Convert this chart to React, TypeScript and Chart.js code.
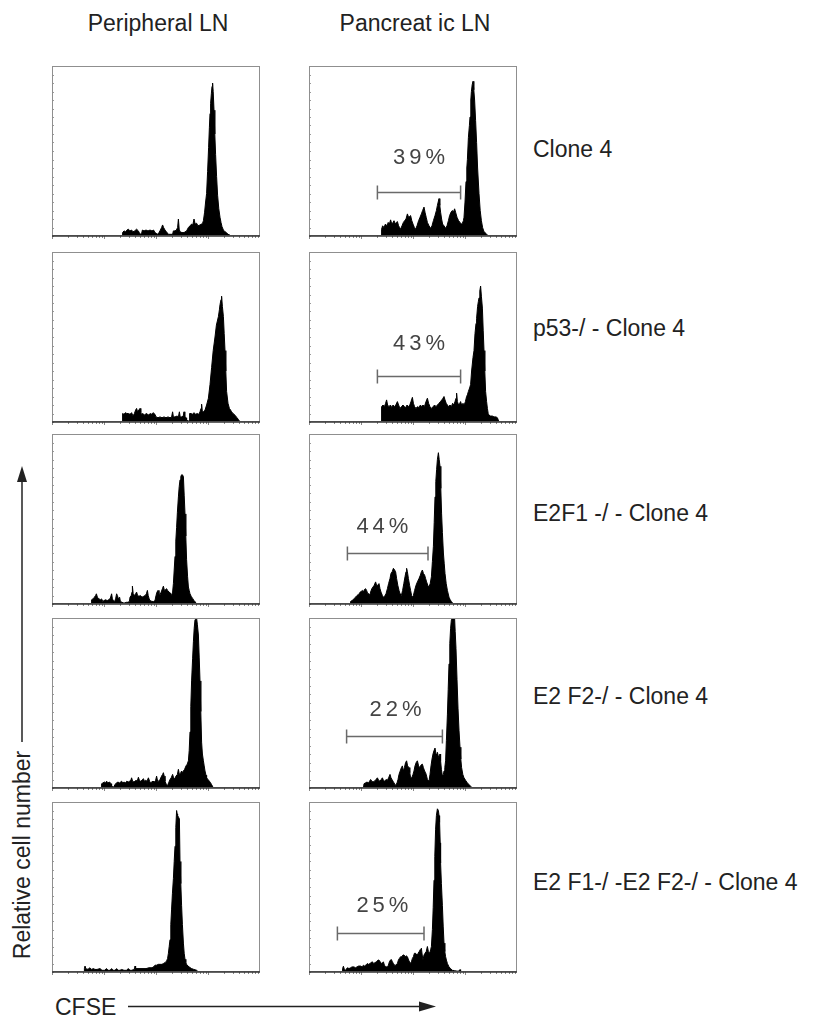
import React, { useEffect, useRef } from "react";
import { Chart, registerables } from "chart.js";

Chart.register(...registerables);

// CFSE channel axis (4 log decades over 1040 channels) and relative cell number (% of max)
const CFSE_MAX = 1040;
const COUNT_MAX = 100;

const columnTitles = ["Peripheral LN", "Pancreat ic LN"];
const rowLabels = [
  "Clone 4",
  "p53-/ - Clone 4",
  "E2F1 -/ - Clone 4",
  "E2 F2-/ - Clone 4",
  "E2 F1-/ -E2 F2-/ - Clone 4",
];
const yAxisTitle = "Relative cell number";
const xAxisTitle = "CFSE";

// Gates on the pancreatic LN histograms
const gatePercents = ["39%", "43%", "44%", "22%", "25%"];
const gateFrom = [342, 342, 192, 188, 142];
const gateTo = [758, 758, 595, 667, 575];
const gateLevel = [26, 27, 30, 30.4, 22.8];
const gateLabelX = [550, 550, 367, 433, 367];
const gateLabelLevel = [46, 46, 45.6, 46, 38.6];

type Pt = [number, number];

const periphClone4: Pt[] = [
  [350,0],[353,2],[360,3],[368,2.5],[375,3.5],[382,4],[390,3],[398,3.5],[405,2.5],[413,3],[423,4],[432,3],[440,1],[448,1.5],[452,3.5],[460,3],[470,3.5],[480,3],[490,3.5],[500,3],[508,3.5],[515,2],[527,1],[535,2],[542,3.5],[548,5],[553,6.5],[558,5],[565,3.5],[572,2.5],[582,1],[595,1],[603,1],[607,3],[615,3],[622,3.5],[628,5],[632,10],[636,4],[640,2.5],[650,2],[660,2],[673,3],[682,5],[690,6],[698,7],[704,6.5],[710,10],[716,7],[723,7.5],[730,6],[740,6.5],[747,7],[753,7.5],[757,9],[763,14],[768,20],[773,25],[778,38],[783,52],[787,64],[790,72],[793,78],[797,84],[800,88],[803,90],[806,85],[810,74],[814,60],[818,48],[823,35],[828,24],[834,16],[840,11],[845,8],[850,5.5],[857,3.5],[865,2.5],[872,2],[880,1],[890,0.5],[895,0],
];

const pancClone4: Pt[] = [
  [360,0],[363,4],[368,6],[375,5],[382,7],[390,6],[396,8],[402,7],[408,9.5],[414,7],[420,8],[425,9],[432,7],[437,8],[442,8.5],[448,6],[453,5],[458,4],[465,6],[472,8],[478,9],[485,10],[492,13],[498,11],[503,11.5],[508,12],[514,9],[520,7],[527,5],[533,4],[540,6],[548,9],[555,11],[562,13],[568,15],[575,17],[580,14],[586,11],[592,8],[600,6],[608,4.5],[615,6],[622,9],[630,12],[637,15],[642,18],[646,20],[650,22],[654,18],[658,14],[663,10],[668,7],[675,6],[683,4.5],[690,6],[697,9],[703,12],[710,14],[717,15],[722,14],[728,16],[733,14],[740,11],[748,9],[755,8],[762,7],[767,7.5],[772,9],[775,11],[780,20],[785,32],[789,40],[792,45],[797,58],[802,65],[805,70],[809,80],[812,85],[816,89],[820,91],[824,86],[828,80],[833,68],[838,55],[843,40],[850,25],[856,15],[862,9],[868,5],[875,2.5],[885,1.5],[892,0.5],[897,0],
];

const periphP53: Pt[] = [
  [350,0],[353,5],[360,4.5],[367,5.5],[374,5],[382,5],[390,4.5],[398,5.5],[405,3.5],[412,5],[418,7],[423,8],[428,6],[434,7],[440,8],[444,5.5],[448,4.5],[455,5],[462,4],[470,5],[478,4.5],[485,4],[490,5],[497,4.5],[505,5.5],[515,4.5],[520,3],[530,2.5],[540,3],[550,2.5],[560,3],[570,2.5],[580,3],[590,2.5],[598,3],[603,6],[607,3],[615,3],[625,3.5],[632,3],[637,6],[641,3],[650,3],[656,3.5],[660,6],[664,3],[670,2.5],[673,1],[685,0.5],[688,5],[695,5],[702,4.5],[710,5.5],[718,4.5],[726,5],[734,4.5],[740,6],[745,8],[748,10.5],[752,6],[757,6],[765,7],[773,10],[782,14],[790,22],[798,32],[806,42],[815,50],[822,57],[832,62],[837,66],[840,69],[845,72],[848,74],[852,68],[857,62],[861,52],[865,42],[869,30],[873,18],[880,11],[887,8],[893,7],[898,6],[905,5],[915,4],[925,2.5],[932,1.5],[940,0],
];

const pancP53: Pt[] = [
  [360,0],[363,9],[370,10],[377,9],[383,11],[388,13],[393,10],[400,9],[407,10],[414,8.5],[420,10],[427,9],[434,10],[442,12],[448,10],[455,8],[462,9],[470,10],[477,9],[484,8.5],[490,10],[497,9],[504,10],[510,12],[517,14.5],[522,11],[528,9],[535,8],[542,9],[550,8.5],[557,10],[563,9],[570,10],[577,9],[585,12],[592,14],[598,11],[605,9],[612,8],[620,9],[628,10],[635,9],[642,10],[650,11],[657,12],[664,13],[670,14],[675,15],[680,13],[686,11],[692,10],[698,9],[705,10],[712,9],[718,11],[724,10],[730,12],[735,14],[738,17],[742,12],[748,10],[754,11],[758,12],[763,10],[770,11],[776,10],[782,12],[788,15],[792,16],[797,18],[803,20],[808,22],[813,30],[820,38],[825,42],[830,52],[835,58],[838,61],[843,68],[847,71],[850,73],[854,77],[858,80],[862,74],[867,67],[871,54],[875,42],[879,30],[883,18],[888,12],[892,8],[896,5],[900,4],[908,3.5],[917,3.5],[925,3],[935,3],[942,2.5],[950,0],
];

const periphE2F1: Pt[] = [
  [195,0],[198,2.5],[205,3],[212,4],[218,5],[222,6],[227,4],[235,3],[242,2.5],[248,3],[254,1.5],[260,2],[268,2.5],[276,2],[284,2.5],[292,3.5],[298,6],[302,3],[307,2],[313,1.5],[318,3],[323,6],[327,5],[332,3],[338,4],[342,1.5],[350,1],[360,0.5],[372,1],[380,1],[387,1.5],[390,4],[396,5],[400,7],[402,10.5],[406,6],[412,5],[418,6],[423,7],[428,5],[435,4.5],[442,5],[450,4],[458,4.5],[466,5],[472,6],[477,8],[481,5],[486,3],[490,2],[500,1.5],[508,1.5],[515,2],[520,5],[525,7],[530,8],[535,6],[540,5.5],[546,7],[552,9],[557,10.5],[562,8],[568,8.5],[573,9],[578,8],[585,7],[592,6.5],[598,5],[603,7],[607,12],[611,20],[615,28],[619,37],[623,45],[627,54],[632,63],[636,69],[640,73],[644,75],[648,76],[652,76],[657,75],[661,64],[665,53],[669,40],[673,26],[678,16],[682,10],[686,8],[690,6],[696,4.5],[703,3.3],[710,2],[715,1.4],[723,0],
];

const pancE2F1: Pt[] = [
  [205,0],[208,1.5],[215,2],[225,3],[232,4],[240,5],[246,5.5],[250,6],[256,7],[262,7.5],[267,8],[272,7],[277,8.5],[283,9],[288,8],[294,6],[300,6],[304,5],[308,7],[314,9],[320,10],[326,11],[333,13],[338,11],[344,11],[350,12],[355,9],[360,7],[367,5],[372,4],[378,4.5],[385,6],[392,9],[398,12],[405,15],[410,18],[416,19],[422,21],[428,20],[433,19],[438,15],[444,11],[450,8],[455,6],[458,4],[462,5],[468,8],[474,12],[480,16],[485,19],[488,21],[492,19],[497,15],[503,11],[508,8],[513,5],[517,4],[522,5],[528,8],[535,11],[542,13],[550,15],[557,17],[562,19],[567,20],[572,18],[578,17],[583,15],[588,13],[594,11],[600,10],[606,12],[612,16],[617,25],[622,34],[626,48],[630,63],[634,72],[638,79],[642,85],[647,89],[651,85],[655,81],[659,68],[663,53],[667,42],[672,30],[676,24],[680,18],[686,12],[692,8],[700,4],[706,2.5],[712,1.4],[722,0],
];

const periphE2F2: Pt[] = [
  [245,0],[248,2.5],[255,3],[262,3.5],[268,3],[273,4],[280,3],[288,3.5],[295,2.5],[298,1],[308,0.5],[315,2],[322,3],[330,3.5],[337,3],[343,3.5],[348,4],[354,3],[360,3.5],[367,3],[374,4],[381,3.5],[388,4],[394,4.5],[398,6],[403,4],[410,3.5],[415,4],[420,4.5],[426,4],[432,6.3],[437,4.5],[443,4],[450,4.5],[457,5.5],[462,4],[468,4.5],[475,4],[482,6],[488,4],[493,3],[498,3.5],[505,4],[512,3.5],[518,4.5],[523,7],[528,4],[532,4],[540,5],[548,7],[553,8],[557,9],[561,7],[565,4],[572,2],[578,1.5],[583,3],[590,5],[596,6],[603,8],[608,6],[614,5.5],[620,7],[627,8],[632,11],[637,8],[642,8.5],[648,10],[652,9],[657,10],[663,11],[670,13],[676,14],[682,16],[686,22],[690,33],[694,48],[698,63],[703,76],[707,86],[711,94],[715,99],[719,100],[723,100],[727,96],[732,90],[736,77],[740,63],[744,45],[748,27],[752,20],[757,16],[761,13],[765,10],[770,7.5],[773,6],[780,5],[787,4],[793,3],[798,2],[807,0],
];

const pancE2F2: Pt[] = [
  [272,0],[275,2.5],[282,3],[290,3.5],[297,3],[303,4],[308,5],[314,4],[320,3.5],[327,4],[335,5],[342,6],[348,4.5],[355,4],[361,5],[367,6],[372,4.5],[378,4],[385,5],[392,4.5],[398,6],[405,8],[410,6],[415,5],[420,4],[425,3],[433,1.5],[440,3],[445,5],[450,8],[456,10],[462,12],[467,13],[472,10],[477,12],[483,15],[488,16],[493,13],[500,12],[504,9],[508,6],[514,6],[520,8],[525,10],[530,13],[536,15],[542,16],[548,13],[554,12],[560,13.5],[567,14],[572,12],[578,10],[583,9],[588,7],[592,5],[600,4],[605,8],[610,13],[615,17],[620,20],[625,22],[630,23.5],[635,20],[638,19],[642,21],[648,18],[652,19],[655,20],[658,16],[662,11],[667,7],[672,8],[675,10],[679,12],[683,16],[687,28],[692,43],[696,58],[700,73],[704,85],[708,94],[712,99],[717,100],[722,100],[728,100],[731,92],[735,82],[740,64],[745,47],[750,34],[755,24],[759,17],[763,12],[769,8],[775,6],[783,4.5],[792,3],[800,2],[808,1],[817,0],
];

const periphDKO: Pt[] = [
  [160,0],[162,2],[165,3.5],[170,1.8],[180,1.6],[190,2.5],[197,1.5],[207,2],[215,1.5],[225,1.5],[240,2],[250,1],[262,1],[273,2],[280,1],[290,1],[298,2],[305,1],[315,1],[323,2],[330,1],[340,1],[348,1.5],[360,1],[372,1],[382,2],[390,1],[400,1],[407,1.5],[412,1.5],[415,3.5],[418,2],[425,2],[440,2],[455,2],[470,2],[485,2.5],[500,2.5],[507,3],[515,4],[523,4],[532,4.5],[540,4.5],[550,4.5],[557,5],[565,5.5],[573,6.5],[578,8],[582,11],[586,15],[590,19],[594,28],[598,37],[602,46],[607,55],[611,65],[615,74],[619,85],[623,95],[626,93],[628,92],[633,91],[637,90],[640,65],[644,52],[648,39],[652,28],[657,17],[661,11],[665,7.5],[669,5.5],[673,4.5],[680,3.5],[690,2.6],[698,2],[707,1.6],[715,1.3],[723,1],[732,0],
];

const pancDKO: Pt[] = [
  [165,0],[168,2],[172,3.4],[177,1.5],[183,1],[188,2],[192,2.5],[200,2],[208,2.5],[215,3],[225,3],[232,2.5],[240,3],[248,3.5],[258,3.5],[265,3],[272,4],[278,3.5],[283,4],[288,4.5],[292,5],[298,4.5],[305,5],[310,5.5],[317,6],[323,5],[330,5.5],[337,6],[345,7],[350,7],[356,6],[362,5],[368,5.5],[372,6],[377,4],[385,3],[392,3],[397,4],[402,6],[407,7],[412,7.3],[417,6],[422,5],[428,4],[433,4],[437,4.5],[442,5],[447,7],[452,8],[458,9],[464,9],[470,10],[475,10],[481,9],[486,9.5],[492,9],[498,7],[503,6],[508,5],[512,6],[517,8],[522,9],[527,11],[533,11],[540,10],[546,11],[550,12],[554,13],[558,13],[562,14],[566,10],[570,7],[572,7],[575,10],[580,11],[586,12],[592,15],[597,12],[603,11],[608,13],[612,15],[617,25],[621,38],[625,54],[629,68],[633,84],[637,92],[642,96],[647,95],[650,92],[653,88],[656,76],[658,64],[662,52],[667,39],[671,27],[675,17],[679,12],[683,9],[687,7],[692,5],[700,3],[708,2],[717,1],[728,0.8],[740,0.5],[748,0.5],[753,1.2],[755,1.4],[758,0],
];

const peripheralSeries = [periphClone4, periphP53, periphE2F1, periphE2F2, periphDKO];
const pancreaticSeries = [pancClone4, pancP53, pancE2F1, pancE2F2, pancDKO];

// Layout (page pixels)
const PANEL_W = 208;
const PANEL_H = 170;
const COL_LEFT = [52, 309];
const ROW_TOP = [66, 252, 434, 618, 802];
const ROW_LABEL_Y = [149, 328, 513, 696, 882];
const PAD = 3;
const FONT = '"Liberation Sans", Arial, Helvetica, sans-serif';

type Gate = { from: number; to: number; level: number; label: string; labelX: number; labelLevel: number };

const panelDecor = {
  id: "panelDecor",
  afterDatasetsDraw(chart: any, _args: any, opts: any) {
    const { ctx, chartArea: a, scales } = chart;
    const xs = scales.x;
    const ys = scales.y;
    ctx.save();
    // left minor ticks
    ctx.strokeStyle = "#9a9a9a";
    ctx.lineWidth = 1;
    for (let v = 0; v <= COUNT_MAX; v += 5) {
      const py = Math.round(ys.getPixelForValue(v)) + 0.5;
      ctx.beginPath();
      ctx.moveTo(a.left, py);
      ctx.lineTo(a.left + 2, py);
      ctx.stroke();
    }
    // bottom log-decade ticks
    ctx.strokeStyle = "#888";
    for (let d = 0; d < 4; d++) {
      for (let k = 1; k < 10; k++) {
        const v = (d + Math.log10(k)) * (CFSE_MAX / 4);
        const px = Math.round(xs.getPixelForValue(v)) + 0.5;
        ctx.beginPath();
        ctx.moveTo(px, a.bottom);
        ctx.lineTo(px, a.bottom + (k === 1 ? 3 : 2));
        ctx.stroke();
      }
    }
    // frame
    ctx.strokeStyle = "#8f8f8f";
    ctx.lineWidth = 1;
    ctx.strokeRect(a.left + 0.5, a.top + 0.5, a.width - 1, a.height - 1);
    ctx.strokeStyle = "#333";
    ctx.lineWidth = 1.5;
    ctx.beginPath();
    ctx.moveTo(a.left, a.bottom);
    ctx.lineTo(a.right, a.bottom);
    ctx.stroke();
    // gate
    const g: Gate | undefined = opts && opts.gate;
    if (g) {
      const x1 = xs.getPixelForValue(g.from);
      const x2 = xs.getPixelForValue(g.to);
      const gy = Math.round(ys.getPixelForValue(g.level)) + 0.5;
      ctx.strokeStyle = "#6a6a6a";
      ctx.lineWidth = 1.5;
      ctx.beginPath();
      ctx.moveTo(x1, gy);
      ctx.lineTo(x2, gy);
      ctx.moveTo(x1, gy - 7);
      ctx.lineTo(x1, gy + 7);
      ctx.moveTo(x2, gy - 7);
      ctx.lineTo(x2, gy + 7);
      ctx.stroke();
      ctx.fillStyle = "#444";
      ctx.font = `22px ${FONT}`;
      (ctx as any).letterSpacing = "4px";
      ctx.textAlign = "center";
      ctx.textBaseline = "middle";
      ctx.fillText(g.label, xs.getPixelForValue(g.labelX) + 2, ys.getPixelForValue(g.labelLevel));
    }
    ctx.restore();
  },
};

function Panel({ data, left, top, gate }: { data: Pt[]; left: number; top: number; gate?: Gate }) {
  const ref = useRef<HTMLCanvasElement | null>(null);
  useEffect(() => {
    if (!ref.current) return;
    const chart = new Chart(ref.current, {
      type: "line",
      data: {
        datasets: [
          {
            data: data as any,
            fill: "origin",
            backgroundColor: "#000",
            borderColor: "#000",
            borderWidth: 1,
            pointRadius: 0,
            tension: 0,
          },
        ],
      },
      options: {
        animation: false,
        responsive: false,
        devicePixelRatio: 1,
        layout: { padding: PAD },
        scales: {
          x: { type: "linear", min: 0, max: CFSE_MAX, display: false },
          y: { type: "linear", min: 0, max: COUNT_MAX, display: false },
        },
        plugins: {
          legend: { display: false },
          tooltip: { enabled: false },
          panelDecor: { gate },
        } as any,
      },
      plugins: [panelDecor as any],
    });
    return () => chart.destroy();
  }, [data, gate]);
  return (
    <canvas
      ref={ref}
      width={PANEL_W + 2 * PAD}
      height={PANEL_H + 2 * PAD}
      style={{ position: "absolute", left: left - PAD, top: top - PAD, width: PANEL_W + 2 * PAD, height: PANEL_H + 2 * PAD }}
    />
  );
}

const gates: Gate[] = gatePercents.map((label, i) => ({
  from: gateFrom[i],
  to: gateTo[i],
  level: gateLevel[i],
  label,
  labelX: gateLabelX[i],
  labelLevel: gateLabelLevel[i],
}));

export default function App() {
  useEffect(() => {
    document.body.style.margin = "0";
  }, []);
  const textStyle: React.CSSProperties = {
    position: "absolute",
    fontFamily: FONT,
    fontSize: 23,
    color: "#222",
    whiteSpace: "nowrap",
    lineHeight: 1,
  };
  return (
    <div style={{ position: "absolute", left: 0, top: 0, width: 815, height: 1019, background: "#fff", overflow: "hidden" }}>
      {columnTitles.map((t, c) => (
        <div key={t} style={{ ...textStyle, left: COL_LEFT[c] + PANEL_W / 2 + 2, top: 23, transform: "translate(-50%, -50%)" }}>
          {t}
        </div>
      ))}
      {peripheralSeries.map((d, r) => (
        <Panel key={"p" + r} data={d} left={COL_LEFT[0]} top={ROW_TOP[r]} />
      ))}
      {pancreaticSeries.map((d, r) => (
        <Panel key={"q" + r} data={d} left={COL_LEFT[1]} top={ROW_TOP[r]} gate={gates[r]} />
      ))}
      {rowLabels.map((t, r) => (
        <div key={t} style={{ ...textStyle, left: 533, top: ROW_LABEL_Y[r], transform: "translateY(-50%)" }}>
          {t}
        </div>
      ))}
      <div style={{ ...textStyle, left: 22, top: 855, transform: "translate(-50%, -50%) rotate(-90deg)" }}>{yAxisTitle}</div>
      <div style={{ ...textStyle, left: 55, top: 1007, transform: "translateY(-50%)" }}>{xAxisTitle}</div>
      <svg width={815} height={1019} style={{ position: "absolute", left: 0, top: 0, pointerEvents: "none" }}>
        <line x1={22} y1={742} x2={22} y2={478} stroke="#222" strokeWidth={1.5} />
        <polygon points="22,466 17,482 27,482" fill="#222" />
        <line x1={128} y1={1006.5} x2={422} y2={1006.5} stroke="#222" strokeWidth={1.5} />
        <polygon points="436,1006.5 419,1001.5 419,1011.5" fill="#222" />
      </svg>
    </div>
  );
}
